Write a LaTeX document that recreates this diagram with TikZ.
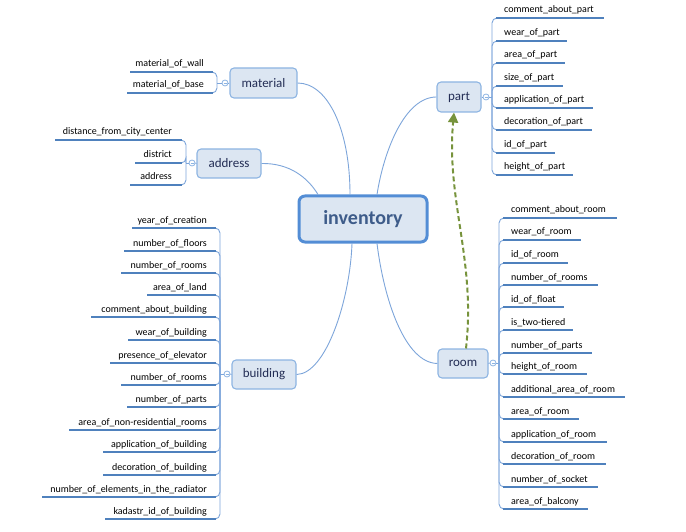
\documentclass[tikz,border=0pt]{standalone}
\usepackage{fontspec}
\setmainfont{Carlito}
\usetikzlibrary{arrows.meta}
\definecolor{nodefill}{RGB}{220,230,242}
\definecolor{nodeborder}{RGB}{141,180,226}
\definecolor{mainborder}{RGB}{83,141,213}
\definecolor{ulinec}{RGB}{79,129,189}
\definecolor{connc}{RGB}{125,165,218}
\definecolor{txtc}{RGB}{35,45,85}
\definecolor{invtxt}{RGB}{62,92,138}
\definecolor{dashc}{RGB}{119,147,60}
\begin{document}
\begin{tikzpicture}[x=1pt,y=-1pt,
  topic/.style={draw=nodeborder, fill=nodefill, line width=1.1pt, rounded corners=4pt,
    inner sep=0pt, font=\fontsize{13}{15}\selectfont, text=txtc},
  central/.style={draw=mainborder, fill=nodefill, line width=3pt, rounded corners=6pt,
    inner sep=0pt, minimum width=128pt, minimum height=46pt,
    font=\fontsize{20}{24}\selectfont\bfseries, text=invtxt},
  leaf/.style={inner sep=0pt, font=\fontsize{10}{12}\selectfont, text=black},
  uline/.style={draw=ulinec, line width=1.7pt},
  conn/.style={draw=connc, line width=0.9pt},
  spine/.style={draw=connc, line width=0.9pt, rounded corners=5pt},
  circ/.style={circle, draw=nodeborder, fill=white, line width=0.8pt, minimum size=6pt, inner sep=0pt,
    path picture={\draw[nodeborder, line width=0.5pt] ([xshift=-1.5pt]path picture bounding box.center) -- ([xshift=1.5pt]path picture bounding box.center);}},
  dasharrow/.style={draw=dashc, line width=2pt, dash pattern=on 5pt off 3pt, -{Triangle[width=10pt,length=10pt]}}
]
\useasboundingbox (0,0) rectangle (686,532);

% main nodes
\node[central] (inv) at (363,219) {inventory};
\node[topic, minimum width=67pt, minimum height=30pt] (material) at (263.5,83) {material};
\node[topic, minimum width=64pt, minimum height=29pt] (address) at (229,163.5) {address};
\node[topic, minimum width=64pt, minimum height=29pt] (building) at (264,374.5) {building};
\node[topic, minimum width=44pt, minimum height=30pt] (part) at (459,97) {part};
\node[topic, minimum width=50pt, minimum height=29pt] (room) at (463,363.5) {room};

% connectors from center
\draw[conn] (material.east) .. controls (328,83) and (350,130) .. ([xshift=-13pt]inv.north);
\draw[conn] (address.east) .. controls (290,163) and (308,178) .. ([xshift=-45pt]inv.north);
\draw[conn] (building.east) .. controls (326,374) and (350,300) .. ([xshift=-11pt]inv.south);
\draw[conn] (part.west) .. controls (405,97) and (384,150) .. ([xshift=14pt]inv.north);
\draw[conn] (room.west) .. controls (405,363) and (384,300) .. ([xshift=14pt]inv.south);

% dashed relation
\draw[dasharrow] ([xshift=3pt]room.north) .. controls (476,260) and (446,200) .. ([xshift=-5pt]part.south);

% collapse circles
\node[circ] (mc) at (225,83) {};
\node[circ] (ac) at (192,163) {};
\node[circ] (bc) at (227,374) {};
\node[circ] (pc) at (486,97) {};
\node[circ] (rc) at (493,363) {};
\draw[conn] (material.west) -- (mc.east);
\draw[conn] (address.west) -- (ac.east);
\draw[conn] (building.west) -- (bc.east);
\draw[conn] (part.east) -- (pc.west);
\draw[conn] (room.east) -- (rc.west);

% material children
\draw[conn] (mc.west) -- (217,83);
\foreach \i/\y/\xl/\t in {1/72/130/material\_of\_wall, 2/93/127/material\_of\_base}{
  \node[leaf, anchor=base east] (m\i) at (204,\y-5) {\t};
  \coordinate (ml\i) at (\xl,\y);
  \draw[spine] (217,83) -- (217,\y) -- (211,\y);
  \draw[uline] (213,\y) -- (ml\i);
}

% address children
\draw[conn] (ac.west) -- (186,163);
\foreach \i/\y/\xl/\t in {1/140/55/distance\_from\_city\_center, 2/163/135/district, 3/185/130/address}{
  \node[leaf, anchor=base east] (a\i) at (172,\y-5) {\t};
  \coordinate (al\i) at (\xl,\y);
  \draw[spine] (186,163) -- (186,\y) -- (180,\y);
  \draw[uline] (182,\y) -- (al\i);
}

% building children
\draw[conn] (bc.west) -- (220,374);
\foreach \i/\y/\xl/\t in {
  1/228/132/year\_of\_creation,
  2/251/124/number\_of\_floors,
  3/273/121/number\_of\_rooms,
  4/295/147/area\_of\_land,
  5/317/91/comment\_about\_building,
  6/340/128/wear\_of\_building,
  7/363/110/presence\_of\_elevator,
  8/385/121/number\_of\_rooms,
  9/407/127/number\_of\_parts,
  10/430/69/area\_of\_non-residential\_rooms,
  11/452/103/application\_of\_building,
  12/475/103/decoration\_of\_building,
  13/497/42/number\_of\_elements\_in\_the\_radiator,
  14/519/105/kadastr\_id\_of\_building}{
  \node[leaf, anchor=base east] (b\i) at (207,\y-5) {\t};
  \coordinate (bl\i) at (\xl,\y);
  \draw[spine] (220,374) -- (220,\y) -- (214,\y);
  \draw[uline] (216,\y) -- (bl\i);
}

% part children
\draw[conn] (pc.east) -- (492,97);
\foreach \i/\y/\xr/\t in {
  1/18/604/comment\_about\_part,
  2/41/567/wear\_of\_part,
  3/63/565/area\_of\_part,
  4/86/563/size\_of\_part,
  5/108/593/application\_of\_part,
  6/130/592/decoration\_of\_part,
  7/153/555/id\_of\_part,
  8/175/573/height\_of\_part}{
  \node[leaf, anchor=base west] (p\i) at (504,\y-5) {\t};
  \coordinate (pl\i) at (\xr,\y);
  \draw[spine] (492,97) -- (492,\y) -- (498,\y);
  \draw[uline] (496,\y) -- (pl\i);
}

% room children
\draw[conn] (rc.east) -- (499,363);
\foreach \i/\y/\xr/\t in {
  1/218/617/comment\_about\_room,
  2/240/581/wear\_of\_room,
  3/263/568/id\_of\_room,
  4/285/598/number\_of\_rooms,
  5/307/564/id\_of\_float,
  6/330/573/is\_two-tiered,
  7/353/592/number\_of\_parts,
  8/374/587/height\_of\_room,
  9/397/625/additional\_area\_of\_room,
  10/419/579/area\_of\_room,
  11/442/607/application\_of\_room,
  12/464/606/decoration\_of\_room,
  13/487/598/number\_of\_socket,
  14/509/588/area\_of\_balcony}{
  \node[leaf, anchor=base west] (r\i) at (511,\y-5) {\t};
  \coordinate (rl\i) at (\xr,\y);
  \draw[spine] (499,363) -- (499,\y) -- (505,\y);
  \draw[uline] (503,\y) -- (rl\i);
}
\end{tikzpicture}
\end{document}
